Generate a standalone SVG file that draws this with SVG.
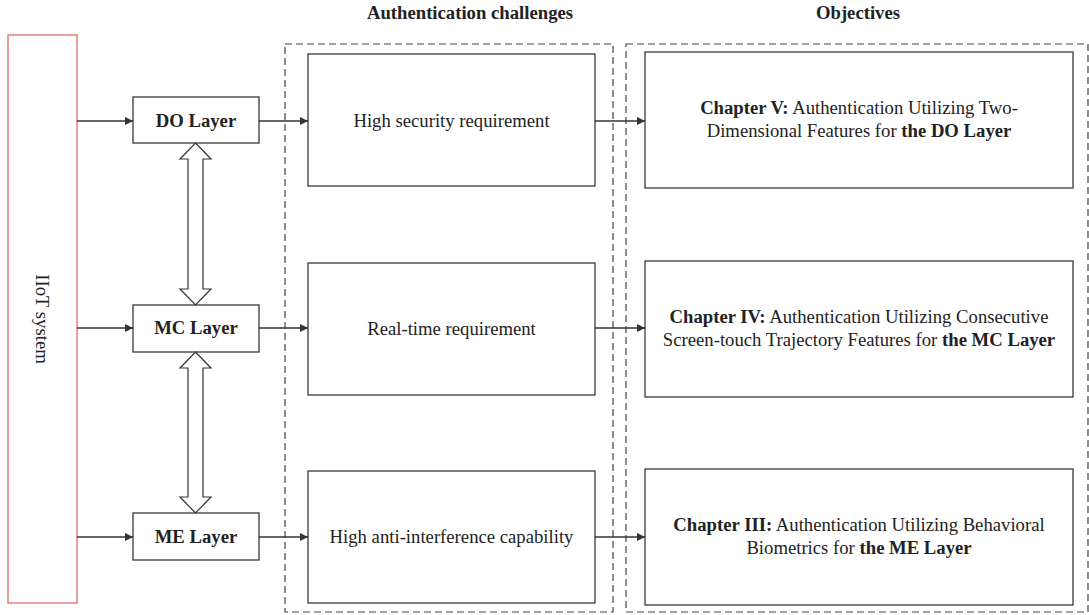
<svg xmlns="http://www.w3.org/2000/svg" width="1089" height="615" viewBox="0 0 1089 615">
  <defs>
    <style>
      .box { fill: #fff; stroke: #3a3a3a; stroke-width: 1.3; }
      .sys { fill: #fff; stroke: #e06a6a; stroke-width: 1.3; }
      .group { fill: none; stroke: #444; stroke-width: 1.2; stroke-dasharray: 7 4; }
      .link { fill: none; stroke: #333; stroke-width: 1.3; }
      .dbl { fill: #fff; stroke: #333; stroke-width: 1.2; stroke-linejoin: miter; }
      text { font-family: "Liberation Serif", "Times New Roman", serif; font-size: 18.7px; fill: #222; }
      .b { font-weight: bold; }
      .c { text-anchor: middle; }
    </style>
    <marker id="ah" viewBox="0 0 10 10" refX="10" refY="5" markerWidth="8" markerHeight="8" markerUnits="userSpaceOnUse" orient="auto">
      <path d="M0,0 L10,5 L0,10 z" fill="#333"/>
    </marker>
  </defs>

  <!-- column headings -->
  <text class="b c" x="470" y="19">Authentication challenges</text>
  <text class="b c" x="858" y="19">Objectives</text>

  <!-- dashed column frames -->
  <rect class="group" x="285" y="44" width="328" height="568"/>
  <rect class="group" x="626" y="44" width="462" height="568"/>

  <!-- system -->
  <g id="iiot">
    <rect class="sys" x="8" y="35" width="69" height="568"/>
    <text class="c" transform="translate(36,319) rotate(90)">IIoT system</text>
  </g>

  <!-- layers -->
  <g id="do-layer">
    <rect class="box" x="133" y="97" width="126" height="46"/>
    <text class="b c" x="196" y="127">DO Layer</text>
  </g>
  <g id="mc-layer">
    <rect class="box" x="133" y="305" width="126" height="47"/>
    <text class="b c" x="196" y="334">MC Layer</text>
  </g>
  <g id="me-layer">
    <rect class="box" x="133" y="513" width="126" height="47"/>
    <text class="b c" x="196" y="543">ME Layer</text>
  </g>

  <!-- challenges -->
  <g id="ch-security">
    <rect class="box" x="308" y="54" width="287" height="132"/>
    <text class="c" x="451.5" y="127">High security requirement</text>
  </g>
  <g id="ch-realtime">
    <rect class="box" x="308" y="263" width="287" height="132"/>
    <text class="c" x="451.5" y="335">Real-time requirement</text>
  </g>
  <g id="ch-interference">
    <rect class="box" x="308" y="471" width="287" height="132"/>
    <text class="c" x="451.5" y="543">High anti-interference capability</text>
  </g>

  <!-- objectives -->
  <g id="obj-do">
    <rect class="box" x="645" y="52" width="428" height="136"/>
    <text class="c" x="859" y="114"><tspan class="b">Chapter V:</tspan> Authentication Utilizing Two-</text>
    <text class="c" x="859" y="137">Dimensional Features for <tspan class="b">the DO Layer</tspan></text>
  </g>
  <g id="obj-mc">
    <rect class="box" x="645" y="261" width="428" height="136"/>
    <text class="c" x="859" y="323"><tspan class="b">Chapter IV:</tspan> Authentication Utilizing Consecutive</text>
    <text class="c" x="859" y="346">Screen-touch Trajectory Features for <tspan class="b">the MC Layer</tspan></text>
  </g>
  <g id="obj-me">
    <rect class="box" x="645" y="469" width="428" height="136"/>
    <text class="c" x="859" y="531"><tspan class="b">Chapter III:</tspan> Authentication Utilizing Behavioral</text>
    <text class="c" x="859" y="554">Biometrics for <tspan class="b">the ME Layer</tspan></text>
  </g>

  <!-- connectors -->
  <g id="connectors">
    <line class="link" x1="77" y1="121" x2="133" y2="121" marker-end="url(#ah)"/>
    <line class="link" x1="77" y1="328" x2="133" y2="328" marker-end="url(#ah)"/>
    <line class="link" x1="77" y1="537" x2="133" y2="537" marker-end="url(#ah)"/>

    <line class="link" x1="259" y1="121" x2="308" y2="121" marker-end="url(#ah)"/>
    <line class="link" x1="259" y1="328" x2="308" y2="328" marker-end="url(#ah)"/>
    <line class="link" x1="259" y1="537" x2="308" y2="537" marker-end="url(#ah)"/>

    <line class="link" x1="595" y1="121" x2="645" y2="121" marker-end="url(#ah)"/>
    <line class="link" x1="595" y1="328" x2="645" y2="328" marker-end="url(#ah)"/>
    <line class="link" x1="595" y1="537" x2="645" y2="537" marker-end="url(#ah)"/>

    <!-- hollow double-headed arrows between layers -->
    <polygon class="dbl" points="195.5,143 211,159 203,159 203,289 211,289 195.5,305 180,289 188,289 188,159 180,159"/>
    <polygon class="dbl" points="195.5,352 211,368 203,368 203,497 211,497 195.5,513 180,497 188,497 188,368 180,368"/>
  </g>
</svg>
